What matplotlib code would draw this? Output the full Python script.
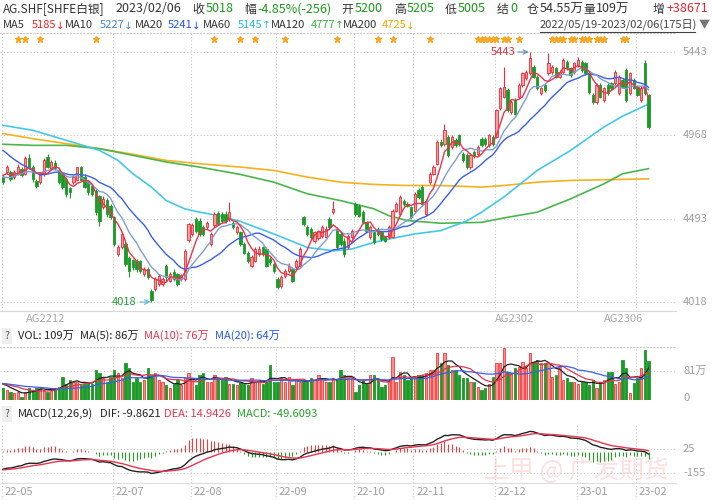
import matplotlib
matplotlib.use('Agg')
import matplotlib.pyplot as plt
import matplotlib.transforms as mtransforms
from matplotlib.lines import Line2D
import numpy as np

plt.rcParams['font.family'] = ['Noto Sans CJK SC', 'DejaVu Sans']

W, H = 712, 500

# ---------------- data ----------------
opens = [4730, 4759, 4759, 4730, 4749, 4778, 4745, 4840, 4790, 4705,
         4700, 4745, 4845, 4780, 4810, 4770, 4745, 4720, 4665, 4700,
         4715, 4785, 4730, 4705, 4680, 4650, 4620, 4560, 4600, 4565,
         4500, 4290, 4330, 4350, 4270, 4255, 4250, 4250, 4175, 4205,
         4082, 4090, 4120, 4120, 4225, 4140, 4190, 4175, 4150, 4150,
         4370, 4405, 4490, 4480, 4445, 4445, 4350, 4455, 4525, 4520,
         4520, 4490, 4470, 4415, 4415, 4349, 4300, 4225, 4253, 4291,
         4329, 4320, 4262, 4234, 4148, 4110, 4167, 4196, 4205, 4215,
         4225, 4501, 4444, 4435, 4368, 4380, 4396, 4390, 4491, 4530,
         4435, 4406, 4368, 4329, 4387, 4577, 4568, 4530, 4473, 4387,
         4415, 4435, 4415, 4387, 4387, 4390, 4539, 4520, 4596, 4577,
         4558, 4539, 4654, 4673, 4520, 4701, 4749, 4806, 4930, 4921,
         4959, 4902, 4940, 4968, 4863, 4854, 4787, 4873, 4863, 4949,
         4949, 4911, 4959, 4959, 5121, 5188, 5226, 5102, 5169, 5188,
         5254, 5292, 5321, 5359, 5302, 5207, 5254, 5321, 5330, 5350,
         5302, 5330, 5388, 5350, 5330, 5370, 5388, 5378, 5321, 5197,
         5159, 5254, 5169, 5254, 5264, 5264, 5207, 5283, 5340, 5207,
         5283, 5245, 5170, 5378, 5200]
closes = [4701, 4787, 4720, 4759, 4787, 4740, 4838, 4785, 4720, 4680,
          4740, 4825, 4790, 4815, 4780, 4700, 4675, 4635, 4645, 4730,
          4785, 4715, 4675, 4645, 4635, 4530, 4480, 4605, 4520, 4500,
          4350, 4330, 4405, 4235, 4195, 4215, 4205, 4195, 4205, 4160,
          4030, 4150, 4165, 4150, 4158, 4177, 4150, 4120, 4170, 4310,
          4460, 4455, 4425, 4405, 4405, 4470, 4405, 4520, 4465, 4480,
          4480, 4530, 4445, 4445, 4350, 4300, 4253, 4272, 4320, 4320,
          4291, 4225, 4244, 4196, 4101, 4158, 4196, 4225, 4139, 4253,
          4320, 4463, 4406, 4387, 4415, 4420, 4444, 4435, 4444, 4549,
          4329, 4349, 4291, 4396, 4425, 4520, 4510, 4473, 4425, 4444,
          4358, 4406, 4377, 4368, 4444, 4539, 4577, 4616, 4577, 4568,
          4501, 4635, 4616, 4577, 4596, 4749, 4787, 4930, 4911, 4997,
          4854, 4959, 4911, 4921, 4825, 4787, 4854, 4854, 4902, 4911,
          4921, 4968, 4921, 5111, 5235, 5245, 5111, 5159, 5092, 5254,
          5321, 5330, 5407, 5302, 5235, 5235, 5226, 5378, 5359, 5302,
          5330, 5397, 5350, 5311, 5378, 5397, 5340, 5321, 5216, 5159,
          5254, 5188, 5235, 5207, 5235, 5330, 5302, 5245, 5169, 5321,
          5240, 5200, 5240, 5207, 5018]
highs = [4745, 4800, 4770, 4770, 4805, 4790, 4850, 4860, 4800, 4720,
         4750, 4840, 4862, 4830, 4825, 4790, 4760, 4730, 4675, 4742,
         4790, 4795, 4745, 4715, 4690, 4660, 4630, 4620, 4610, 4575,
         4510, 4345, 4415, 4360, 4280, 4265, 4262, 4255, 4215, 4215,
         4090, 4160, 4175, 4160, 4235, 4190, 4205, 4185, 4180, 4320,
         4470, 4470, 4500, 4495, 4455, 4480, 4415, 4530, 4535, 4530,
         4535, 4590, 4480, 4455, 4425, 4360, 4310, 4285, 4330, 4335,
         4340, 4330, 4272, 4245, 4160, 4170, 4205, 4240, 4215, 4265,
         4330, 4510, 4455, 4445, 4425, 4430, 4455, 4450, 4500, 4596,
         4445, 4415, 4380, 4405, 4435, 4590, 4578, 4540, 4482, 4455,
         4425, 4445, 4425, 4395, 4455, 4550, 4590, 4630, 4606, 4590,
         4568, 4645, 4665, 4683, 4606, 4760, 4797, 4940, 4945, 5035,
         4970, 4970, 4950, 4978, 4875, 4865, 4865, 4885, 4912, 4960,
         4960, 4978, 4970, 5120, 5245, 5359, 5236, 5170, 5180, 5264,
         5330, 5340, 5443, 5370, 5312, 5245, 5264, 5435, 5370, 5360,
         5340, 5407, 5398, 5360, 5388, 5416, 5398, 5388, 5330, 5207,
         5264, 5264, 5245, 5264, 5274, 5340, 5312, 5293, 5350, 5331,
         5293, 5255, 5250, 5400, 5205]
lows = [4690, 4750, 4705, 4720, 4740, 4730, 4740, 4775, 4700, 4665,
        4690, 4735, 4780, 4770, 4770, 4690, 4660, 4615, 4610, 4690,
        4705, 4705, 4665, 4630, 4620, 4515, 4453, 4550, 4505, 4490,
        4340, 4280, 4320, 4225, 4160, 4200, 4190, 4185, 4165, 4150,
        4018, 4080, 4110, 4110, 4140, 4130, 4140, 4110, 4140, 4140,
        4360, 4395, 4410, 4395, 4395, 4435, 4340, 4445, 4455, 4470,
        4470, 4480, 4435, 4405, 4340, 4290, 4240, 4215, 4245, 4280,
        4280, 4215, 4230, 4185, 4090, 4100, 4155, 4185, 4130, 4205,
        4215, 4450, 4395, 4375, 4355, 4370, 4385, 4380, 4435, 4520,
        4320, 4340, 4272, 4320, 4378, 4510, 4500, 4463, 4415, 4378,
        4348, 4396, 4367, 4358, 4378, 4380, 4530, 4510, 4567, 4558,
        4490, 4530, 4606, 4567, 4510, 4690, 4740, 4797, 4900, 4910,
        4845, 4890, 4900, 4910, 4815, 4777, 4777, 4840, 4850, 4900,
        4910, 4900, 4910, 4950, 5110, 5178, 5100, 5092, 5082, 5178,
        5245, 5282, 5311, 5292, 5225, 5197, 5216, 5311, 5320, 5292,
        5292, 5320, 5340, 5300, 5320, 5360, 5330, 5311, 5206, 5149,
        5149, 5178, 5159, 5197, 5225, 5254, 5197, 5235, 5159, 5197,
        5230, 5190, 5160, 5197, 5005]
volumes = [33, 28, 23, 19, 23, 9, 23, 33, 28, 33,
           33, 28, 23, 28, 33, 37, 65, 46, 56, 51,
           51, 42, 46, 51, 46, 84, 74, 60, 51, 65,
           84, 74, 60, 102, 88, 51, 60, 51, 56, 88,
           70, 74, 56, 51, 42, 33, 46, 56, 42, 60,
           74, 60, 42, 70, 74, 51, 51, 70, 60, 56,
           65, 46, 46, 42, 51, 46, 42, 60, 51, 56,
           46, 51, 98, 51, 51, 60, 51, 65, 42, 56,
           51, 56, 51, 60, 56, 70, 60, 51, 51, 60,
           56, 84, 70, 60, 60, 23, 42, 56, 46, 70,
           70, 56, 37, 42, 56, 121, 51, 79, 70, 56,
           60, 60, 70, 70, 74, 84, 84, 130, 102, 130,
           98, 84, 84, 70, 60, 60, 51, 51, 37, 28,
           33, 46, 65, 102, 102, 145, 79, 74, 88, 93,
           107, 88, 130, 107, 112, 102, 102, 102, 65, 70,
           93, 56, 60, 51, 51, 46, 51, 51, 42, 56,
           33, 51, 56, 79, 79, 46, 51, 112, 89, 20,
           47, 61, 89, 140, 109]

# closes / volumes of the 19 sessions before 2022/05/19 (for the short MAs)
prior_closes = [5120, 5090, 5080, 5060, 5040, 5030, 5010, 4990, 4970, 4950,
                4800, 4730, 4700, 4690, 4680, 4740, 4770, 4740, 4749]
prior_volumes = [48, 52, 45, 50, 44, 47, 49, 43, 46, 45,
                 50, 44, 47, 42, 48, 46, 52, 44, 47]

# long moving averages
ma60_idx = [0, 8, 17, 26, 31, 35, 40, 44, 49, 53, 58, 64, 73, 82, 89, 94, 100,
            104, 111, 118, 125, 129, 135, 144, 153, 162, 167, 174]
ma60_val = [5025, 4997, 4940, 4882, 4825, 4749, 4673, 4596, 4549, 4530, 4511,
            4477, 4406, 4329, 4310, 4320, 4358, 4377, 4406, 4425, 4480, 4530,
            4616, 4768, 4882, 5016, 5077, 5146]
ma120_idx = [0, 8, 17, 26, 35, 44, 53, 64, 73, 82, 91, 100, 104, 109, 118, 129,
             135, 144, 153, 162, 167, 174]
ma120_val = [4917, 4911, 4911, 4892, 4854, 4816, 4787, 4745, 4701, 4635, 4596,
             4549, 4510, 4482, 4467, 4472, 4497, 4530, 4606, 4692, 4749, 4778]
ma200_idx = [0, 8, 17, 26, 35, 44, 53, 64, 73, 82, 91, 100, 109, 118, 129, 135,
             144, 153, 162, 174]
ma200_val = [4978, 4949, 4921, 4892, 4860, 4825, 4806, 4787, 4768, 4730, 4701,
             4688, 4682, 4682, 4673, 4682, 4701, 4711, 4715, 4720]

# MACD state just before the first session
ema12_start, ema26_start, dea_start = 4835.0, 4960.0, -133.0

month_idx = [0, 30, 51, 74, 95, 111, 133, 155, 171]
month_labels = ['22-05', '22-07', '22-08', '22-09', '22-10', '22-11', '22-12', '23-01', '23-02']
contract_idx = [6.2, 132.6, 162.0]
contract_labels = ['AG2212', 'AG2302', 'AG2306']
star_idx = [4, 6, 10, 25, 57, 64, 68, 76, 90, 101, 105, 115, 128, 129, 130, 131,
            132, 133, 135, 136, 139, 148, 149, 150, 151, 153, 154, 156, 157, 158,
            160, 161, 162, 167, 168]
price_ticks = [5443, 4968, 4493, 4018]

# ---------------- colours ----------------
RED_EDGE = '#ee2a3a'
RED_FACE = '#fb9a9a'
GREEN = '#1c9a28'
GRID = '#c8c8c8'
LABEL = '#a0a0a0'
C_MA5, C_MA10, C_MA20 = '#e8344e', '#7f9fcf', '#3a5ee8'
C_MA60, C_MA120, C_MA200 = '#44c8e6', '#4cb44e', '#f3b21e'

o = np.array(opens, float)
c = np.array(closes, float)
h = np.array(highs, float)
l = np.array(lows, float)
v = np.array(volumes, float)
x = np.arange(len(c))
up = c >= o


def moving_avg(prior, values, n):
    full = np.concatenate([prior, values])
    out = np.convolve(full, np.ones(n) / n, mode='valid')
    return out[-len(values):]


ma5 = moving_avg(prior_closes, c, 5)
ma10 = moving_avg(prior_closes, c, 10)
ma20 = moving_avg(prior_closes, c, 20)
vma5 = moving_avg(prior_volumes, v, 5)
vma10 = moving_avg(prior_volumes, v, 10)
vma20 = moving_avg(prior_volumes, v, 20)

# MACD(12,26,9)
dif, dea = [], []
e12, e26, d = ema12_start, ema26_start, dea_start
for price in c:
    e12 += (price - e12) * 2 / 13
    e26 += (price - e26) * 2 / 27
    diff = e12 - e26
    d += (diff - d) * 2 / 10
    dif.append(diff)
    dea.append(d)
dif = np.array(dif)
dea = np.array(dea)
hist = 2 * (dif - dea)


def px_box(x0, y0, x1, y1):
    return [x0 / W, 1 - y1 / H, (x1 - x0) / W, (y1 - y0) / H]


def ftext(xp, yp, s, color='#333333', size=8, **kw):
    fig.text(xp / W, 1 - yp / H, s, color=color, fontsize=size,
             ha='left', va='center', **kw)


def ma_value(xp, s, arrow, color):
    # value then a narrow arrow right behind it
    ftext(xp, 25, s, color, size=8)
    ftext(xp + 24, 25.5, arrow, color, size=7.5, family=['DejaVu Sans'])


XMIN, XMAX = -0.81, 181.4
grid_x = [i - 0.4 for i in month_idx]

fig = plt.figure(figsize=(W / 100, H / 100), dpi=100)

# ---------------- price panel ----------------
ax = fig.add_axes(px_box(0, 33, 676, 311))
ax.set_facecolor('none')
ax.set_xlim(XMIN, XMAX)
ax.set_ylim(3966.7, 5551.3)
for sp in ['left', 'right']:
    ax.spines[sp].set_visible(False)
ax.spines['top'].set_color(GRID)
ax.spines['top'].set_linestyle((0, (1, 2)))
ax.spines['bottom'].set_color('#d8d8d8')
ax.set_xticks([])
ax.set_yticks([])
for p in price_ticks:
    ax.axhline(p, color=GRID, lw=0.8, ls=(0, (1, 2)), zorder=1)
for gx in grid_x:
    ax.axvline(gx, color=GRID, lw=0.8, ls=(0, (1, 2)), zorder=1)

ax.plot(ma200_idx, ma200_val, color=C_MA200, lw=1.2, zorder=2)
ax.plot(ma120_idx, ma120_val, color=C_MA120, lw=1.2, zorder=2)
ax.plot(ma60_idx, ma60_val, color=C_MA60, lw=1.2, zorder=2)

edge_cols = np.where(up, RED_EDGE, GREEN)
face_cols = np.where(up, RED_FACE, GREEN)
ax.vlines(x, l, h, colors=edge_cols, lw=0.8, zorder=3)
body = np.maximum(np.abs(c - o), 4)
ax.bar(x, body, bottom=np.minimum(o, c), width=0.62, color=face_cols,
       edgecolor=edge_cols, linewidth=0.6, zorder=4)

ax.plot(x, ma20, color=C_MA20, lw=1.0, zorder=5)
ax.plot(x, ma10, color=C_MA10, lw=1.0, zorder=5)
ax.plot(x, ma5, color=C_MA5, lw=1.0, zorder=5)

hi = int(np.argmax(h))
lo = int(np.argmin(l))
ax.annotate(f'{int(h[hi])}', xy=(hi - 0.3, h[hi]), xytext=(hi - 3.9, h[hi]),
            color='#e0303c', fontsize=8, ha='right', va='center',
            arrowprops=dict(arrowstyle='->', color='#5a8ab8', lw=0.8,
                            shrinkA=0, shrinkB=0), zorder=6)
ax.annotate(f'{int(l[lo])}', xy=(lo - 0.3, l[lo]), xytext=(lo - 3.9, l[lo]),
            color='#2a9a3a', fontsize=8, ha='right', va='center',
            arrowprops=dict(arrowstyle='->', color='#5ab4d0', lw=0.8,
                            shrinkA=0, shrinkB=0), zorder=6)

trans_main = mtransforms.blended_transform_factory(ax.transData, ax.transAxes)
ax.plot(star_idx, [0.978] * len(star_idx), ls='none', marker='*', ms=5,
        color='#f5a623', transform=trans_main, clip_on=False, zorder=6)
for ci, cl in zip(contract_idx, contract_labels):
    ax.text(ci, -0.027, cl, transform=trans_main, color='#a8a8a8', fontsize=8,
            ha='left', va='center', clip_on=False)

trans_lab = mtransforms.blended_transform_factory(ax.transAxes, ax.transData)
for p in price_ticks:
    ax.text(683 / 676, p, str(p), transform=trans_lab, color=LABEL,
            fontsize=8, ha='left', va='center')

# ---------------- volume panel ----------------
axv = fig.add_axes(px_box(0, 347, 676, 400))
axv.set_facecolor('none')
axv.set_xlim(XMIN, XMAX)
axv.set_ylim(0, 147.9)
for sp in ['left', 'right', 'bottom']:
    axv.spines[sp].set_visible(False)
axv.spines['top'].set_color(GRID)
axv.spines['top'].set_linestyle((0, (1, 2)))
axv.set_xticks([])
axv.set_yticks([])
axv.axhline(81, color=GRID, lw=0.8, ls=(0, (1, 2)), zorder=1)
for gx in grid_x[1:]:
    axv.axvline(gx, color=GRID, lw=0.8, ls=(0, (1, 2)), zorder=1)
vface = np.where(up, '#fb8f8f', GREEN)
vedge = np.where(up, '#f03c3c', GREEN)
axv.bar(x, v, width=0.62, color=vface, edgecolor=vedge, linewidth=0.6, zorder=3)
axv.plot(x, vma5, color='#222222', lw=0.9, zorder=4)
axv.plot(x, vma10, color=C_MA5, lw=0.9, zorder=4)
axv.plot(x, vma20, color=C_MA20, lw=0.9, zorder=4)
trans_v = mtransforms.blended_transform_factory(axv.transAxes, axv.transData)
axv.text(683 / 676, 81, '81万', transform=trans_v, color=LABEL, fontsize=8,
         ha='left', va='center')
axv.text(683 / 676, 6, '0', transform=trans_v, color=LABEL, fontsize=8,
         ha='left', va='center')

# ---------------- MACD panel ----------------
axm = fig.add_axes(px_box(0, 423, 676, 483))
axm.set_facecolor('none')
axm.set_xlim(XMIN, XMAX)
axm.set_ylim(-230, 220)
for sp in axm.spines.values():
    sp.set_visible(False)
axm.set_xticks([])
axm.set_yticks([])
for yv in [25, -155]:
    axm.axhline(yv, color=GRID, lw=0.8, ls=(0, (1, 2)), zorder=1)
for gx in grid_x:
    axm.axvline(gx, color=GRID, lw=0.8, ls=(0, (1, 2)), zorder=1)
axm.vlines(x, 0, hist, colors=np.where(hist >= 0, '#f03c3c', '#22a022'),
           lw=0.8, zorder=2)
axm.plot(x, dif, color='#222222', lw=1.0, zorder=3)
axm.plot(x, dea, color=C_MA5, lw=1.0, zorder=3)
trans_m = mtransforms.blended_transform_factory(axm.transAxes, axm.transData)
for yv in [25, -155]:
    axm.text(683 / 676, yv, str(yv), transform=trans_m, color=LABEL,
             fontsize=8, ha='left', va='center')

# ---------------- date axis ----------------
axd = fig.add_axes(px_box(0, 483, 676, 500))
axd.set_facecolor('none')
axd.set_xlim(XMIN, XMAX)
axd.set_ylim(0, 1)
for sp in ['left', 'right', 'bottom']:
    axd.spines[sp].set_visible(False)
axd.spines['top'].set_color('#dddddd')
axd.set_xticks([])
axd.set_yticks([])
for gx, lab in zip(grid_x, month_labels):
    axd.axvline(gx, color=GRID, lw=0.8, ls=(0, (1, 2)))
    axd.text(gx + 0.8, 0.47, lab, color=LABEL, fontsize=8, ha='left', va='center')

# ---------------- header text ----------------
GRN = '#1a9a1a'
RED = '#e8242c'
ftext(3, 9, 'AG.SHF[SHFE白银]', size=8.5)
ftext(115, 9, '2023/02/06', size=9)
ftext(192, 9, '收', size=8.5)
ftext(206, 9, '5018', GRN, size=9)
ftext(244, 9, '幅', size=8.5)
ftext(257, 9, '-4.85%(-256)', GRN, size=9)
ftext(341, 9, '开', size=8.5)
ftext(355, 9, '5200', GRN, size=9)
ftext(394, 9, '高', size=8.5)
ftext(407, 9, '5205', GRN, size=9)
ftext(445, 9, '低', size=8.5)
ftext(458, 9, '5005', GRN, size=9)
ftext(497, 9, '结', size=8.5)
ftext(510, 9, '0', GRN, size=9)
ftext(527, 9, '仓', size=8.5)
ftext(540, 9, '54.55万', size=9)
ftext(583, 9, '量', size=8.5)
ftext(596, 9, '109万', size=9)
ftext(653, 9, '增', size=8.5)
ftext(667, 9, '+38671', RED, size=9)

ftext(3, 25, 'MA5')
ma_value(32, '5185', '↓', RED)
ftext(65, 25, 'MA10')
ma_value(100, '5227', '↓', '#4a86c8')
ftext(135, 25, 'MA20')
ma_value(168, '5241', '↓', '#2255ee')
ftext(203, 25, 'MA60')
ma_value(238, '5145', '↑', '#22c0dc')
ftext(271, 25, 'MA120')
ma_value(311, '4777', '↑', '#3cb040')
ftext(343, 25, 'MA200')
ma_value(382, '4725', '↓', '#f0a800')
ftext(540, 25, '2022/05/19-2023/02/06(175日)', '#444444', size=8)
fig.add_artist(Line2D([540 / W, 695 / W], [1 - 32 / H] * 2, color='#444444', lw=0.8))
ftext(699, 25, '▼', '#777777', size=8)

ftext(5, 336, '?', '#555555', size=7.5,
      bbox=dict(boxstyle='square,pad=0.25', fc='#eeeeee', ec='none'))
ftext(18, 336, 'VOL: 109万', '#222222')
ftext(80, 336, 'MA(5): 86万', '#222222')
ftext(144, 336, 'MA(10): 76万', C_MA5)
ftext(215, 336, 'MA(20): 64万', '#2255ee')

ftext(5, 414, '?', '#555555', size=7.5,
      bbox=dict(boxstyle='square,pad=0.25', fc='#eeeeee', ec='none'))
ftext(18, 414, 'MACD(12,26,9)', '#222222')
ftext(100, 414, 'DIF: -9.8621', '#222222')
ftext(164, 414, 'DEA: 14.9426', C_MA5)
ftext(237, 414, 'MACD: -49.6093', '#22a022')

fig.text(484 / W, 1 - 471 / H, '上甲 @ 广发期货', color='#fde0e0', fontsize=18,
         ha='left', va='center', zorder=-1)

fig.savefig('out.png', dpi=100)
